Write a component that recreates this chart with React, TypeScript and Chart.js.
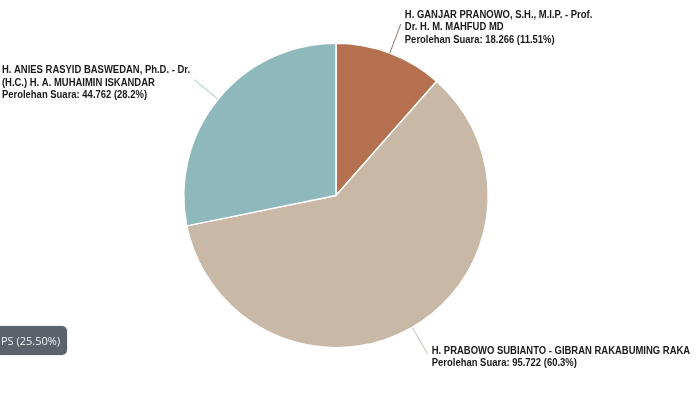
import React, { useEffect, useRef } from "react";
import { Chart, registerables } from "chart.js";

Chart.register(...registerables);

const categories = ["GANJAR - MAHFUD", "PRABOWO - GIBRAN", "ANIES - MUHAIMIN"];
const votes = [18266, 95722, 44762];
const voteLabels = ["18.266", "95.722", "44.762"];
const percentLabels = ["11.51%", "60.3%", "28.2%"];
const nameLines = [
  ["H. GANJAR PRANOWO, S.H., M.I.P. - Prof.", "Dr. H. M. MAHFUD MD"],
  ["H. PRABOWO SUBIANTO - GIBRAN RAKABUMING RAKA"],
  ["H. ANIES RASYID BASWEDAN, Ph.D. - Dr.", "(H.C.) H. A. MUHAIMIN ISKANDAR"],
];
const sliceColors = ["#b5714f", "#c8b8a5", "#8fb8bd"];
const connectorColors = ["#8c7468", "#c9bdb0", "#a3c6ca"];
const tooltipText = "PS (25.50%)";

const labelPlugin = {
  id: "sideLabels",
  afterDatasetsDraw(chart: any) {
    const ctx = chart.ctx as CanvasRenderingContext2D;
    const meta = chart.getDatasetMeta(0);
    const scaleX = 0.86;
    const lh = 12.5;
    meta.data.forEach((arc: any, i: number) => {
      const p = arc.getProps(["x", "y", "startAngle", "endAngle", "outerRadius"], true);
      const mid = (p.startAngle + p.endAngle) / 2;
      const c = Math.cos(mid);
      const s = Math.sin(mid);
      const r0 = p.outerRadius;
      const r1 = p.outerRadius + 31;
      const sx = p.x + c * r0;
      const sy = p.y + s * r0;
      const ex = p.x + c * r1;
      const ey = p.y + s * r1;
      ctx.save();
      ctx.strokeStyle = connectorColors[i];
      ctx.lineWidth = 1;
      ctx.beginPath();
      ctx.moveTo(sx, sy);
      ctx.lineTo(ex, ey);
      ctx.stroke();

      const lines = [...nameLines[i], `Perolehan Suara: ${voteLabels[i]} (${percentLabels[i]})`];
      ctx.font = "bold 11px 'Liberation Sans', Arial, sans-serif";
      ctx.fillStyle = "#1a1a1a";
      ctx.textBaseline = "middle";
      ctx.textAlign = "left";
      const widths = lines.map((l) => ctx.measureText(l).width * scaleX);
      const right = c >= 0;
      const tx = right ? ex + 4 : ex - 4 - Math.max(...widths);
      const top = ey + 3 - ((lines.length - 1) * lh) / 2;
      lines.forEach((l, j) => {
        ctx.save();
        ctx.translate(tx, top + j * lh);
        ctx.scale(scaleX, 1);
        ctx.fillText(l, 0, 0);
        ctx.restore();
      });
      ctx.restore();
    });
  },
};

export default function App() {
  const ref = useRef<HTMLCanvasElement | null>(null);
  useEffect(() => {
    if (!ref.current) return;
    const chart = new Chart(ref.current, {
      type: "pie",
      data: {
        labels: categories,
        datasets: [
          {
            data: votes,
            backgroundColor: sliceColors,
            borderColor: "#ffffff",
            borderWidth: 1.5,
          },
        ],
      },
      options: {
        responsive: false,
        animation: false,
        devicePixelRatio: 1,
        layout: { padding: { left: 183, right: 211, top: 42, bottom: 44 } },
        plugins: {
          legend: { display: false },
          tooltip: { enabled: false },
        },
      },
      plugins: [labelPlugin],
    });
    return () => chart.destroy();
  }, []);

  return (
    <div style={{ position: "fixed", left: 0, top: 0, width: 700, height: 393, background: "#fff", overflow: "hidden" }}>
      <canvas ref={ref} width={700} height={393} style={{ display: "block" }} />
      <div
        style={{
          position: "absolute",
          left: 0,
          top: 326,
          width: 67,
          height: 29,
          background: "#5c626c",
          borderRadius: "0 5px 5px 0",
          color: "#eef0f2",
          fontFamily: "'Open Sans', 'Noto Sans', sans-serif",
          fontSize: 11,
          lineHeight: "29px",
          paddingLeft: 1,
          boxSizing: "border-box",
          whiteSpace: "nowrap",
          boxShadow: "0 0 3px rgba(0,0,0,0.15)",
        }}
      >
        {tooltipText}
      </div>
    </div>
  );
}
